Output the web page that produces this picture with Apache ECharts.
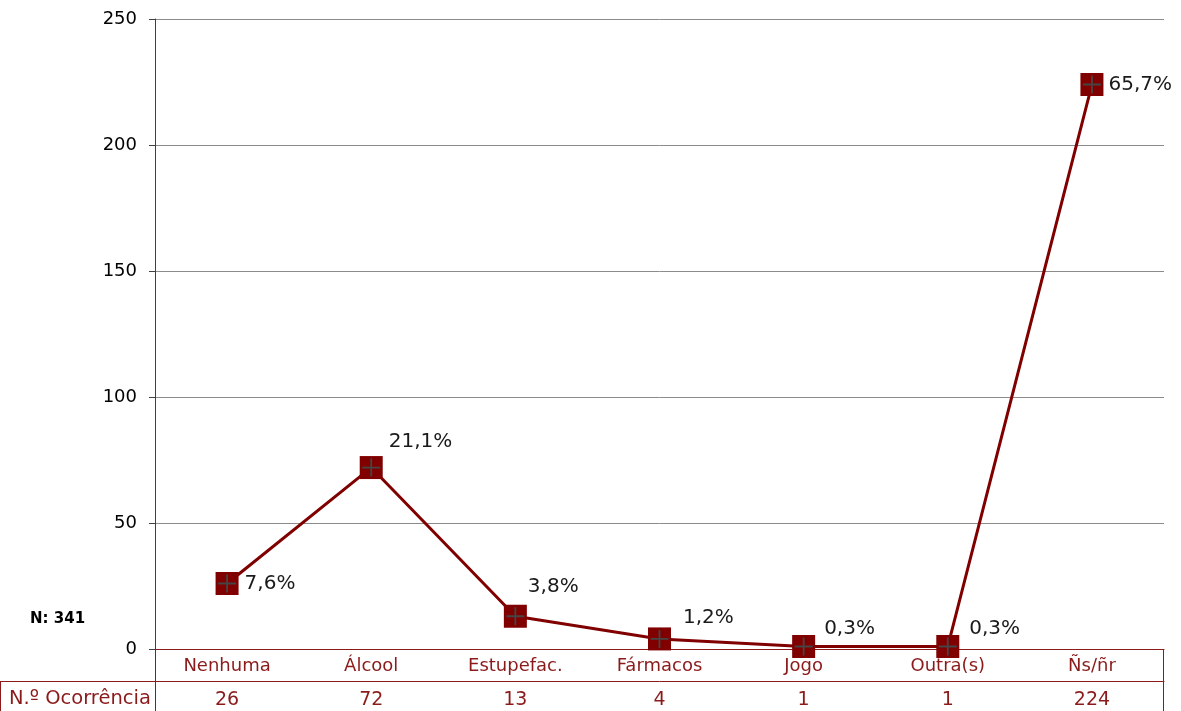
<!DOCTYPE html>
<html>
<head>
<meta charset="utf-8">
<script src="https://cdn.jsdelivr.net/npm/echarts@6/dist/echarts.min.js"></script>
<style>html,body{margin:0;padding:0;background:#fff}#c{width:1181px;height:711px}</style>
</head>
<body>
<div id="c"></div>
<script>
var categories = ['Nenhuma', 'Álcool', 'Estupefac.', 'Fármacos', 'Jogo', 'Outra(s)', 'Ñs/ñr'];
var values = [26, 72, 13, 4, 1, 1, 224];
var percentLabels = ['7,6%', '21,1%', '3,8%', '1,2%', '0,3%', '0,3%', '65,7%'];
var rowTitle = 'N.º Ocorrência';
var totalText = 'N: 341';
var yTicks = { min: 0, max: 250, interval: 50 };

var DARK_RED = '#800000';
var TXT_RED = '#8b1a1a';
var FONT = 'DejaVu Sans';
var labelOffsets = [[0, 0], [0, -26], [-5, -29], [6, -21], [3, -18], [4, -18], [-1, 0]];

var G = { left: 155, right: 17, top: 19, bottom: 62 };
var W = 1181, H = 711;
var x0 = G.left, x1 = W - G.right, yB = H - G.bottom;

var chart = echarts.init(document.getElementById('c'), null, { renderer: 'canvas' });

var lineData = values.map(function (v, i) {
  return {
    value: v,
    label: { offset: labelOffsets[i], formatter: percentLabels[i] }
  };
});

chart.setOption({
  animation: false,
  textStyle: { fontFamily: FONT },
  grid: { left: G.left, right: G.right, top: G.top, bottom: G.bottom, containLabel: false },
  xAxis: [{
    type: 'category',
    data: categories,
    boundaryGap: true,
    axisLine: { show: true, lineStyle: { color: TXT_RED, width: 1 } },
    axisTick: { show: false },
    axisLabel: { color: TXT_RED, fontSize: 18, fontFamily: FONT, margin: 8, interval: 0 },
    splitLine: { show: false }
  }, {
    type: 'category',
    position: 'bottom',
    offset: 32,
    data: categories,
    boundaryGap: true,
    axisLine: { show: true, lineStyle: { color: TXT_RED, width: 1 } },
    axisTick: { show: false },
    axisLabel: {
      color: TXT_RED, fontSize: 19, fontFamily: FONT, margin: 10, interval: 0,
      formatter: function (v, i) { return String(values[i]); }
    },
    splitLine: { show: false }
  }],
  yAxis: {
    type: 'value',
    min: yTicks.min, max: yTicks.max, interval: yTicks.interval,
    axisLine: { show: true, lineStyle: { color: '#404040', width: 1 } },
    axisTick: { show: true, length: 6, lineStyle: { color: '#404040' } },
    axisLabel: { color: '#000', fontSize: 18, fontFamily: FONT, margin: 18 },
    splitLine: { show: true, lineStyle: { color: '#8c8c8c', width: 1 } }
  },
  series: [{
    type: 'line',
    data: lineData,
    symbol: 'rect',
    symbolSize: 23,
    itemStyle: { color: DARK_RED },
    lineStyle: { color: DARK_RED, width: 3 },
    label: {
      show: true, position: 'right', distance: 6,
      color: '#1a1a1a', fontSize: 20, fontFamily: FONT
    },
    z: 3
  }, {
    type: 'line',
    data: values,
    symbol: 'path://M9,0h2v20h-2z M0,9h20v2h-20z',
    symbolSize: 18,
    itemStyle: { color: '#454545' },
    lineStyle: { opacity: 0 },
    silent: true,
    z: 4
  }],
  graphic: [
    { type: 'line', shape: { x1: x0 + 0.5, y1: yB, x2: x0 + 0.5, y2: H }, style: { stroke: TXT_RED, lineWidth: 1 }, z: 10 },
    { type: 'line', shape: { x1: x1 - 0.5, y1: yB, x2: x1 - 0.5, y2: H }, style: { stroke: TXT_RED, lineWidth: 1 }, z: 10 },
    { type: 'line', shape: { x1: 0.5, y1: yB + 32, x2: 0.5, y2: H }, style: { stroke: TXT_RED, lineWidth: 1 }, z: 10 },
    { type: 'line', shape: { x1: 0, y1: yB + 32.5, x2: x0, y2: yB + 32.5 }, style: { stroke: TXT_RED, lineWidth: 1 }, z: 10 },
    { type: 'text', left: 9, top: yB + 40, style: { text: rowTitle, fill: TXT_RED, font: '19.5px "DejaVu Sans"' }, z: 10 },
    { type: 'text', left: 30, top: 612, style: { text: totalText, fill: '#000', font: 'bold 15px "DejaVu Sans"' }, z: 10 }
  ]
});
</script>
</body>
</html>
